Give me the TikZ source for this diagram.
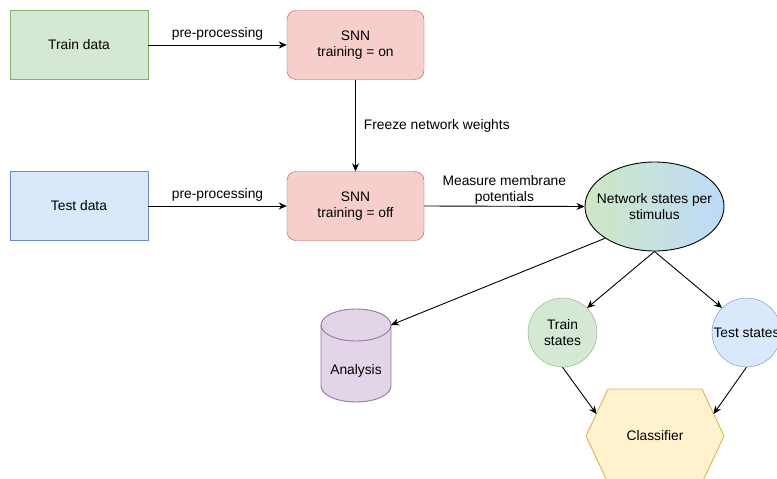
\documentclass[tikz,border=0pt]{standalone}
\usepackage{fontspec}
\setmainfont{Liberation Sans}
\usetikzlibrary{arrows.meta,calc,shapes.geometric}
\definecolor{grnF}{HTML}{D5E8D4}
\definecolor{grnD}{HTML}{82B366}
\definecolor{bluF}{HTML}{DAE8FC}
\definecolor{bluD}{HTML}{6C8EBF}
\definecolor{redF}{HTML}{F8CECC}
\definecolor{redD}{HTML}{B85450}
\definecolor{purF}{HTML}{E1D5E7}
\definecolor{purD}{HTML}{9673A6}
\definecolor{yelF}{HTML}{FFF2CC}
\definecolor{yelD}{HTML}{D6B656}
\definecolor{gradL}{HTML}{CDE8C4}
\definecolor{gradR}{HTML}{BFDAF9}
\tikzset{
  font=\fontsize{13.8}{16}\selectfont,
  every node/.style={align=center, inner sep=0pt},
  databox/.style={draw, minimum width=138pt, minimum height=69pt},
  snnbox/.style={draw=redD, fill=redF, rounded corners=9pt, minimum width=137pt, minimum height=69pt},
  circ/.style={circle, draw, minimum size=69pt},
  conn/.style={draw=black, line width=0.9pt, -{Stealth[length=8pt,width=7pt,inset=2.5pt]}},
}
\begin{document}
\begin{tikzpicture}[x=1pt,y=-1pt]
\useasboundingbox (0,0) rectangle (777,479);

% input data and the two network phases
\node[databox, draw=grnD, fill=grnF] (train) at (79,45) {Train data};
\node[databox, draw=bluD, fill=bluF] (test) at (79,206) {Test data};
\node[snnbox] (snnon) at (355.5,45) {SNN\\training = on};
\node[snnbox] (snnoff) at (355.5,206) {SNN\\training = off};

% collected network states
\node[ellipse, draw, line width=0.9pt, minimum width=139pt, minimum height=89pt,
      left color=gradL, right color=gradR] (states) at (654.5,206.5) {};
\node at (states.center) {Network states per\\stimulus};
\node[circ, draw=grnD, fill=grnF] (trs) at (562.5,332.5) {Train\\states};
\node[circ, draw=bluD, fill=bluF] (tes) at (746.5,332.5) {Test states};

% analysis store (cylinder)
\fill[purF] (321,325) -- (321,386) arc[start angle=180,end angle=0,x radius=35,y radius=16]
  -- (391,325) arc[start angle=0,end angle=-180,x radius=35,y radius=16] -- cycle;
\draw[purD, line width=0.9pt] (321,325) -- (321,386) arc[start angle=180,end angle=0,x radius=35,y radius=16]
  -- (391,325);
\draw[purD, line width=0.9pt] (356,325) ellipse[x radius=35, y radius=16];
\node (ana) at (356,371) {Analysis};
\coordinate (anaIn) at (391,325);

% classifier hexagon
\filldraw[draw=yelD, fill=yelF, line width=0.9pt]
  (586,436) -- (608,389) -- (702,389) -- (724,436) -- (702,483) -- (608,483) -- cycle;
\node (cls) at (655,436) {Classifier};
\coordinate (clsL) at (596.5,414);
\coordinate (clsR) at (713.5,414);

% connectors
\draw[conn] (train) -- node[above=4pt] {pre-processing} (snnon);
\draw[conn] (test) -- node[above=4pt] {pre-processing} (snnoff);
\draw[conn] (snnon) -- node[right=8pt] {Freeze network weights} (snnoff);
\draw[conn] (snnoff.east) -- node[above=1pt] {Measure membrane\\potentials} (states.west);
\draw[conn] (states.south) -- (trs.north east);
\draw[conn] (states.south) -- (tes.north west);
\draw[conn] (states.south west) -- (anaIn);
\draw[conn] (trs.south) -- (clsL);
\draw[conn] (tes.south) -- (clsR);
\end{tikzpicture}
\end{document}
